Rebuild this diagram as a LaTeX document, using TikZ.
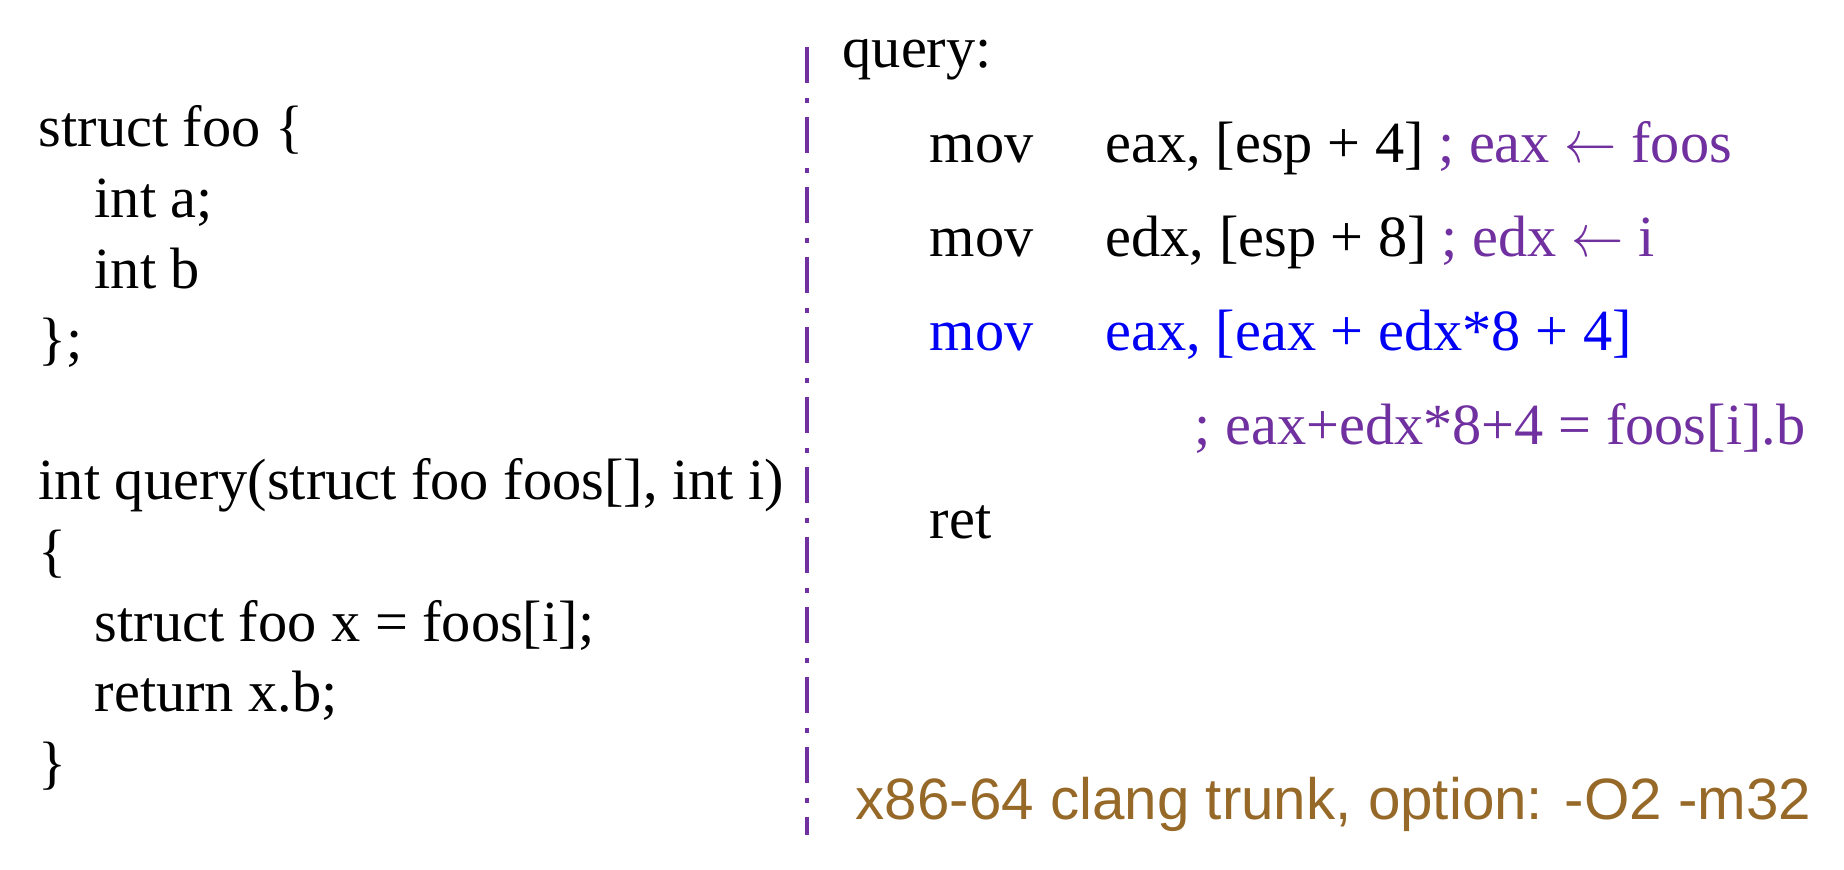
\documentclass[tikz,border=0pt]{standalone}
\usepackage{graphicx}
\usepackage{fontspec}
\setmainfont{Liberation Serif}
\newfontfamily\optfont{Liberation Sans}
\usetikzlibrary{positioning}
\definecolor{cpurple}{RGB}{112,48,160}
\definecolor{cblue}{RGB}{0,0,245}
\definecolor{cbrown}{RGB}{150,105,40}
\newcommand{\getsarrow}{\scalebox{0.86}[1]{$\leftarrow$}}

\begin{document}
\begin{tikzpicture}[auto, node distance=0.706cm,
                    code node/.style={inner sep=0pt,anchor=base west,font=\fontsize{16.6}{20}\selectfont},
                    hot node/.style={code node,text=cblue},
                    sep line/.style={cpurple,line width=0.04cm,dash pattern=on 0.36cm off 0.15cm on 0.05cm off 0.14cm}]

\useasboundingbox (0,0) rectangle (18.44,8.70);

% C source
\node[code node] (1) at (0.38,7.23) {struct foo \{};
  \node[code node] (2) [below=of 1.base west, xshift=0.56cm, anchor=base west] {int a;};
  \node[code node] (3) [below=of 2.base west, anchor=base west] {int b};
\node[code node] (4) [below=of 3.base west, xshift=-0.56cm, anchor=base west] {\};};
\node[code node] (5) [below=1.412cm of 4.base west, anchor=base west] {int query(struct foo foos[], int i)};
\node[code node] (6) [below=of 5.base west, anchor=base west] {\{};
  \node[code node] (7) [below=of 6.base west, xshift=0.56cm, anchor=base west] {struct foo x = foos[i];};
  \node[code node] (8) [below=of 7.base west, anchor=base west] {return x.b;};
\node[code node] (9) [below=of 8.base west, xshift=-0.56cm, anchor=base west] {\}};

% separator
\coordinate (top) at (8.07,8.23);
\coordinate (bot) at (8.07,0.35);
\draw[sep line] (top) -- (bot);

% assembly
\node[code node] (q) at (8.42,8.02) {query:};
  \node[code node] (m1) at (9.29,7.07) {mov};
  \node[code node] (o1) [right=1.76cm of m1.base west, anchor=base west] {eax, [esp + 4] \textcolor{cpurple}{; eax \getsarrow{} foos}};
  \node[code node] (m2) [below=0.94cm of m1.base west, anchor=base west] {mov};
  \node[code node] (o2) [right=1.76cm of m2.base west, anchor=base west] {edx, [esp + 8] \textcolor{cpurple}{; edx \getsarrow{} i}};
  \node[hot node] (m3) [below=0.94cm of m2.base west, anchor=base west] {mov};
  \node[hot node] (o3) [right=1.76cm of m3.base west, anchor=base west] {eax, [eax + edx*8 + 4]};
    \node[code node,text=cpurple] (c3) [below=0.94cm of o3.base west, xshift=0.89cm, anchor=base west] {; eax+edx*8+4 = foos[i].b};
  \node[code node] (r) [below=1.88cm of m3.base west, anchor=base west] {ret};

\node[code node,font=\optfont\fontsize{16.6}{20}\selectfont,text=cbrown] (opt) at (8.55,0.50) {x86-64 clang trunk, option: -O2 -m32};

\end{tikzpicture}
\end{document}
